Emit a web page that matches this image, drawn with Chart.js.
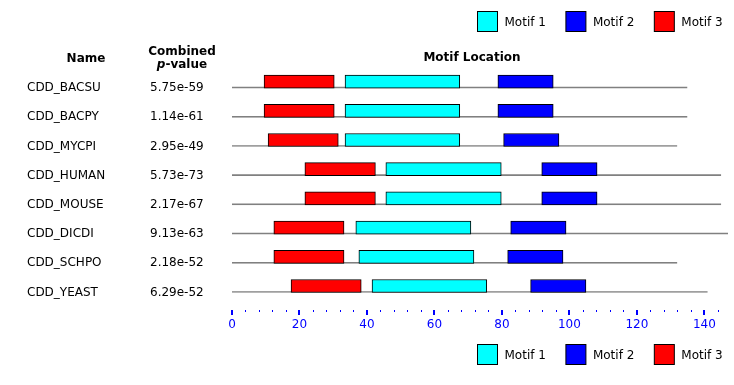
<!DOCTYPE html>
<html>
<head>
<meta charset="utf-8">
<script src="https://cdn.jsdelivr.net/npm/chart.js@4.4.1/dist/chart.umd.min.js"></script>
<style>
  html, body { margin: 0; padding: 0; background: #fff; }
  #wrap { width: 734px; height: 385px; position: relative; }
</style>
</head>
<body>
<div id="wrap"><canvas id="motifs"></canvas></div>
<script>
// --- Dados -------------------------------------------------------
const names = ['CDD_BACSU', 'CDD_BACPY', 'CDD_MYCPI', 'CDD_HUMAN', 'CDD_MOUSE', 'CDD_DICDI', 'CDD_SCHPO', 'CDD_YEAST'];
const pValues = ['5.75e-59', '1.14e-61', '2.95e-49', '5.73e-73', '2.17e-67', '9.13e-63', '2.18e-52', '6.29e-52'];
const seqLengths = [135, 135, 132, 145, 145, 147, 132, 141];

const motif1 = [[33.5, 67.5], [33.5, 67.5], [33.5, 67.5], [45.6, 79.8], [45.6, 79.8], [36.7, 70.8], [37.6, 71.7], [41.5, 75.5]];
const motif2 = [[78.8, 95.2], [78.8, 95.2], [80.5, 96.9], [91.8, 108.2], [91.8, 108.2], [82.6, 99.0], [81.7, 98.1], [88.5, 104.9]];
const motif3 = [[9.5, 30.3], [9.5, 30.3], [10.7, 31.5], [21.6, 42.5], [21.6, 42.5], [12.4, 33.2], [12.4, 33.2], [17.5, 38.3]];

const majorTicks = [0, 20, 40, 60, 80, 100, 120, 140];
const minorTicks = [4, 8, 12, 16, 24, 28, 32, 36, 44, 48, 52, 56, 64, 68, 72, 76, 84, 88, 92, 96, 104, 108, 112, 116, 124, 128, 132, 136, 144];

const motifLegend = [
  { label: 'Motif 1', color: '#00ffff' },
  { label: 'Motif 2', color: '#0000ff' },
  { label: 'Motif 3', color: '#ff0000' },
];

const FONT = '"DejaVu Sans", Verdana, sans-serif';
const BAR_H = 13;

// --- Rotulos, eixo e legendas desenhados no canvas --------------
const motifDecor = {
  id: 'motifDecor',
  afterDraw(chart) {
    const { ctx, chartArea } = chart;
    const x = chart.scales.x;
    const y = chart.scales.y;
    ctx.save();

    // cabecalhos
    ctx.fillStyle = '#000';
    ctx.textBaseline = 'middle';
    ctx.textAlign = 'center';
    ctx.font = 'bold 12px ' + FONT;
    ctx.fillText('Name', 86, 59);
    ctx.fillText('Combined', 182, 52);
    ctx.fillText('Motif Location', 472, 58);

    ctx.textAlign = 'left';
    ctx.font = 'italic bold 12px ' + FONT;
    const pw = ctx.measureText('p').width;
    ctx.font = 'bold 12px ' + FONT;
    const vw = ctx.measureText('-value').width;
    const px = 182 - (pw + vw) / 2;
    ctx.font = 'italic bold 12px ' + FONT;
    ctx.fillText('p', px, 65);
    ctx.font = 'bold 12px ' + FONT;
    ctx.fillText('-value', px + pw, 65);

    // nomes e p-values
    ctx.font = '12px ' + FONT;
    names.forEach((n, i) => {
      const yy = y.getPixelForValue(i) + BAR_H / 2;
      ctx.fillText(n, 27, yy);
      ctx.fillText(pValues[i], 150, yy);
    });

    // marcas do eixo
    ctx.fillStyle = '#0000ff';
    const top = Math.round(chartArea.bottom) + 9;
    majorTicks.forEach(v => {
      ctx.fillRect(Math.round(x.getPixelForValue(v)) - 1, top, 2, 5);
    });
    minorTicks.forEach(v => {
      ctx.fillRect(Math.round(x.getPixelForValue(v)), top, 1, 2);
    });

    // legendas (topo e base)
    drawLegend(ctx, 11.5);
    drawLegend(ctx, 344.5);
    ctx.restore();
  }
};

function drawLegend(ctx, top) {
  ctx.font = '12px ' + FONT;
  const widths = motifLegend.map(m => 21 + 6 + ctx.measureText(m.label).width);
  const total = widths.reduce((a, b) => a + b, 0) + 20 * (widths.length - 1);
  let lx = Math.round(722 - total) + 0.5;
  motifLegend.forEach((m, i) => {
    ctx.fillStyle = m.color;
    ctx.fillRect(lx, top, 20, 20);
    ctx.strokeStyle = '#000';
    ctx.lineWidth = 1;
    ctx.strokeRect(lx, top, 20, 20);
    ctx.fillStyle = '#000';
    ctx.textAlign = 'left';
    ctx.textBaseline = 'middle';
    ctx.fillText(m.label, lx + 27, top + 11);
    lx += widths[i] + 20;
  });
}

// --- Grafico ---------------------------------------------------
function motifDataset(label, color, data) {
  return {
    label,
    data,
    backgroundColor: color,
    borderColor: '#000',
    borderWidth: 1,
    borderSkipped: false,
    barThickness: BAR_H,
    grouped: false,
    order: 1,
  };
}

const ctx = document.getElementById('motifs').getContext('2d');

new Chart(ctx, {
  type: 'bar',
  data: {
    labels: names,
    datasets: [
      motifDataset('Motif 1', '#00ffff', motif1),
      motifDataset('Motif 2', '#0000ff', motif2),
      motifDataset('Motif 3', '#ff0000', motif3),
      {
        label: 'sequence',
        data: seqLengths.map(l => [0, l]),
        backgroundColor: 'rgba(0,0,0,0)',
        borderColor: '#808080',
        borderWidth: { top: 0, left: 0, right: 0, bottom: 1 },
        borderSkipped: false,
        barThickness: BAR_H,
        grouped: false,
        order: 10,
      },
    ]
  },
  plugins: [motifDecor],
  options: {
    indexAxis: 'y',
    responsive: true,
    maintainAspectRatio: false,
    animation: false,
    layout: { padding: { top: 67, bottom: 36, left: 232, right: 6 } },
    plugins: {
      legend: { display: false },
      tooltip: { enabled: false },
    },
    scales: {
      x: {
        type: 'linear',
        min: 0,
        max: 147,
        grid: { display: false, drawTicks: false },
        border: { display: false },
        afterBuildTicks: scale => { scale.ticks = majorTicks.map(v => ({ value: v })); },
        ticks: {
          color: '#0000ff',
          font: { family: FONT, size: 12 },
          padding: 17,
          maxRotation: 0,
          autoSkip: false,
        }
      },
      y: {
        display: false,
        offset: true,
        grid: { display: false },
      }
    }
  }
});
</script>
</body>
</html>
